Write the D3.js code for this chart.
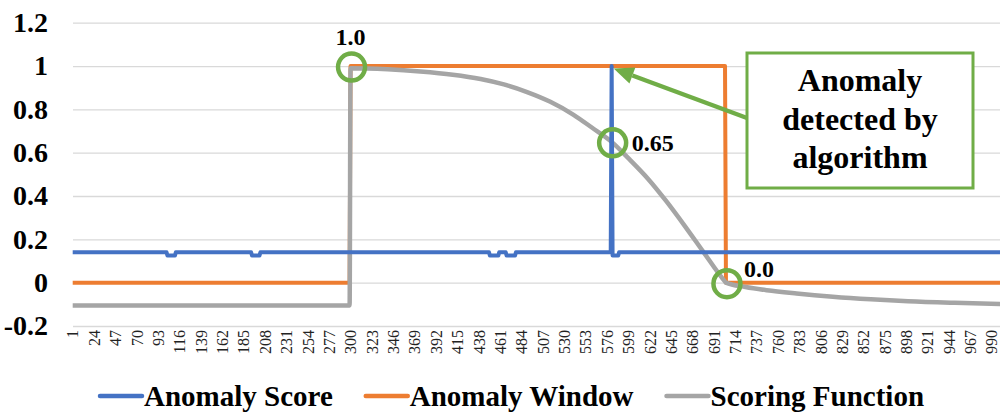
<!DOCTYPE html>
<html>
<head>
<meta charset="utf-8">
<script src="https://cdn.jsdelivr.net/npm/d3@7/dist/d3.min.js"></script>
<style>
  body { margin: 0; background: #fff; }
  text { font-family: "Liberation Serif", "Times New Roman", serif; }
</style>
</head>
<body>
<div id="chart"></div>
<script>
// y axis ticks
var yTicks = [-0.2, 0, 0.2, 0.4, 0.6, 0.8, 1, 1.2];
var yTickLabels = ["-0.2", "0", "0.2", "0.4", "0.6", "0.8", "1", "1.2"];

// x axis (category index) tick labels
var xTicks = [1, 24, 47, 70, 93, 116, 139, 162, 185, 208, 231, 254, 277, 300, 323, 346,
  369, 392, 415, 438, 461, 484, 507, 530, 553, 576, 599, 622, 645, 668, 691, 714,
  737, 760, 783, 806, 829, 852, 875, 898, 921, 944, 967, 990];

// Anomaly Score (blue)
var scoreIdx = [1, 102, 103, 111, 112, 193, 194, 202, 203, 449, 450, 459, 460, 467, 468, 477, 478,
  580, 581, 582, 588, 589, 1000];
var scoreVal = [0.14, 0.14, 0.125, 0.125, 0.14, 0.14, 0.125, 0.125, 0.14, 0.14, 0.125, 0.125, 0.14,
  0.14, 0.125, 0.125, 0.14, 0.14, 1.0, 0.125, 0.125, 0.14, 0.14];

// Anomaly Window (orange)
var windowIdx = [1, 299, 300, 703, 704, 1000];
var windowVal = [0, 0, 1, 1, 0, 0];

// Scoring Function (gray)
var scoringIdx = [1, 299, 300, 340, 375, 410, 440, 465, 490, 515, 540, 560, 581, 600, 620, 640,
  660, 680, 703, 704, 725, 748, 780, 819, 860, 900, 950, 1000];
var scoringVal = [-0.105, -0.105, 0.99, 0.985, 0.975, 0.96, 0.94, 0.915, 0.88, 0.835, 0.775, 0.715,
  0.65, 0.57, 0.48, 0.375, 0.26, 0.14, 0.005, 0.0, -0.02, -0.035, -0.05, -0.065, -0.077, -0.086,
  -0.093, -0.098];

// highlighted points
var markIdx = [300, 581, 704];
var markVal = [1.0, 0.65, 0.0];
var markText = ["1.0", "0.65", "0.0"];

var seriesNames = ["Anomaly Score", "Anomaly Window", "Scoring Function"];
var calloutLines = ["Anomaly", "detected by", "algorithm"];

function zip(a, b) {
  var arr = [];
  for (var i = 0; i < a.length; i++) arr.push([a[i], b[i]]);
  return arr;
}

var width = 1000, height = 414;
var colors = ["#4472C4", "#ED7D31", "#A5A5A5"];
var green = "#70AD47";

var svg = d3.select("#chart").append("svg")
    .attr("width", width)
    .attr("height", height)
    .style("display", "block");

var x = d3.scaleLinear().domain([1, 1000]).range([72.7, 1001]);
var y = d3.scaleLinear().domain([-0.2, 1.2]).range([326, 22.7]);

// y axis + gridlines
var yAxis = svg.append("g")
    .attr("transform", "translate(73,0)")
    .call(d3.axisLeft(y)
      .tickValues(yTicks)
      .tickSize(-(width - 73))
      .tickPadding(25)
      .tickFormat(function(d, i) { return yTickLabels[i]; }));
yAxis.select(".domain").remove();
yAxis.selectAll("line").attr("stroke", "#d9d9d9").attr("stroke-width", 1.3);
yAxis.selectAll("text")
    .attr("fill", "#000")
    .style("font-family", "'Liberation Serif', serif")
    .style("font-weight", "bold")
    .style("font-size", "28px");

// x axis labels
var xAxis = svg.append("g")
    .attr("transform", "translate(0,326)")
    .call(d3.axisBottom(x).tickValues(xTicks).tickSize(0));
xAxis.select(".domain").remove();
xAxis.selectAll("text")
    .attr("transform", "rotate(-90)")
    .attr("x", -4)
    .attr("y", 0)
    .attr("dy", "0.33em")
    .attr("fill", "#222")
    .style("text-anchor", "end")
    .style("font-family", "'Liberation Serif', serif")
    .style("font-size", "16px");

// lines
var line = d3.line().x(function(d) { return x(d[0]); }).y(function(d) { return y(d[1]); });
var smooth = d3.line().curve(d3.curveMonotoneX)
    .x(function(d) { return x(d[0]); }).y(function(d) { return y(d[1]); });

svg.append("path")
    .attr("d", line(zip(windowIdx, windowVal)))
    .attr("fill", "none").attr("stroke", colors[1]).attr("stroke-width", 4)
    .attr("stroke-linejoin", "round");

svg.append("path")
    .attr("d", smooth(zip(scoringIdx, scoringVal)))
    .attr("fill", "none").attr("stroke", colors[2]).attr("stroke-width", 4.5)
    .attr("stroke-linejoin", "round");

svg.append("path")
    .attr("d", line(zip(scoreIdx, scoreVal)))
    .attr("fill", "none").attr("stroke", colors[0]).attr("stroke-width", 4)
    .attr("stroke-linejoin", "round");

// highlighted points with labels
var labelOffset = [[0, -21, "middle"], [20, 9, "start"], [18, -6, "start"]];
markIdx.forEach(function(d, i) {
  var cx = x(d), cy = y(markVal[i]);
  svg.append("circle")
      .attr("cx", cx + 1).attr("cy", cy + 1).attr("r", 13.5)
      .attr("fill", "none").attr("stroke", green).attr("stroke-width", 4.5);
  svg.append("text")
      .attr("x", cx + labelOffset[i][0])
      .attr("y", cy + labelOffset[i][1])
      .attr("text-anchor", labelOffset[i][2])
      .style("font-weight", "bold")
      .style("font-size", "24px")
      .text(markText[i]);
});

// callout box
var box = {x: 747, y: 53, w: 226, h: 135};
svg.append("rect")
    .attr("x", box.x).attr("y", box.y).attr("width", box.w).attr("height", box.h)
    .attr("fill", "#fff").attr("stroke", green).attr("stroke-width", 3);
calloutLines.forEach(function(t, i) {
  svg.append("text")
      .attr("x", box.x + box.w / 2)
      .attr("y", 91 + i * 38.5)
      .attr("text-anchor", "middle")
      .style("font-weight", "bold")
      .style("font-size", "32px")
      .text(t);
});

// arrow from box to detected point
var tip = [x(581) + 2, y(1) + 2.5];
var tail = [box.x, 118];
var dx = tail[0] - tip[0], dy = tail[1] - tip[1];
var len = Math.sqrt(dx * dx + dy * dy);
var ux = dx / len, uy = dy / len;
var headLen = 20, headW = 8.5;
var base = [tip[0] + ux * headLen, tip[1] + uy * headLen];
svg.append("line")
    .attr("x1", tail[0]).attr("y1", tail[1])
    .attr("x2", base[0]).attr("y2", base[1])
    .attr("stroke", green).attr("stroke-width", 4.5);
svg.append("polygon")
    .attr("points", [
      tip,
      [base[0] - uy * headW, base[1] + ux * headW],
      [base[0] + uy * headW, base[1] - ux * headW]
    ].map(function(p) { return p.join(","); }).join(" "))
    .attr("fill", green);

// legend
var legend = svg.append("g").attr("transform", "translate(0,396)");
var lx = 100;
seriesNames.forEach(function(name, i) {
  legend.append("line")
      .attr("x1", lx).attr("x2", lx + 42)
      .attr("y1", 0).attr("y2", 0)
      .attr("stroke", colors[i]).attr("stroke-width", 4.5)
      .attr("stroke-linecap", "round");
  var t = legend.append("text")
      .attr("x", lx + 44)
      .attr("y", 10)
      .style("font-weight", "bold")
      .style("font-size", "29px")
      .text(name);
  lx = lx + 44 + t.node().getComputedTextLength() + 33;
});
</script>
</body>
</html>
